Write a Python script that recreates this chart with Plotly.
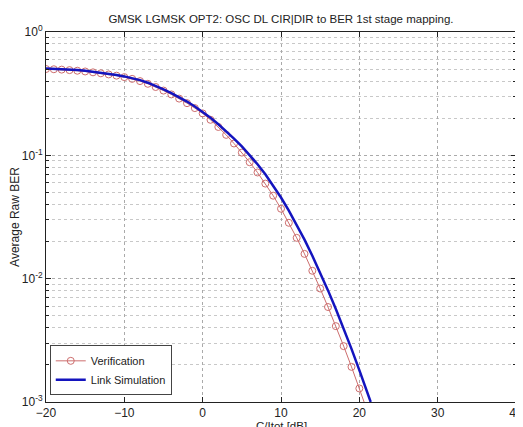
import plotly.graph_objects as go

title = "GMSK LGMSK OPT2: OSC DL CIR|DIR to BER 1st stage mapping."
x_label = "C/Itot [dB]"
y_label = "Average Raw BER"

# Link simulation (blue) : C/I in dB and log10(BER)
link_db = [-20, -19, -18, -17, -16, -15, -14, -13, -12, -11, -10, -9, -8, -7, -6, -5, -4, -3, -2, -1,
           0, 1, 2, 3, 4, 5, 6, 7, 8, 9, 10, 11, 12, 13, 14, 15, 16, 17, 18, 19, 20, 21, 21.45]
link_log = [-0.295, -0.297, -0.300, -0.304, -0.309, -0.315, -0.322, -0.330, -0.339, -0.349, -0.360,
            -0.373, -0.390, -0.411, -0.436, -0.465, -0.495, -0.528, -0.564, -0.604,
            -0.648, -0.696, -0.748, -0.804, -0.864, -0.928, -0.997, -1.072, -1.154, -1.244, -1.342,
            -1.448, -1.562, -1.684, -1.814, -1.951, -2.095, -2.246, -2.404, -2.569, -2.741, -2.920, -3.000]

# Verification (red circles)
ver_db = [-20, -19, -18, -17, -16, -15, -14, -13, -12, -11, -10, -9, -8, -7, -6, -5, -4, -3, -2, -1,
          0, 1, 2, 3, 4, 5, 6, 7, 8, 9, 10, 11, 12, 13, 14, 15, 16, 17, 18, 19, 20, 21]
ver_log = [-0.300, -0.302, -0.305, -0.309, -0.314, -0.320, -0.327, -0.335, -0.344, -0.354, -0.366,
           -0.380, -0.398, -0.420, -0.446, -0.475, -0.506, -0.540, -0.577, -0.617,
           -0.660, -0.712, -0.770, -0.834, -0.904, -0.978, -1.056, -1.139, -1.229, -1.327, -1.433,
           -1.547, -1.669, -1.799, -1.936, -2.080, -2.230, -2.385, -2.547, -2.715, -2.890, -3.070]

y_tickvals = [1, 0.1, 0.01, 0.001]
y_ticktext = ["10<sup>0</sup>", "10<sup>-1</sup>", "10<sup>-2</sup>", "10<sup>-3</sup>"]
x_tickvals = [-20, -10, 0, 10, 20, 30, 40]

link_ber = [10 ** v for v in link_log]
ver_ber = [10 ** v for v in ver_log]

FONT = "Liberation Sans, Arial"

fig = go.Figure()
fig.add_trace(go.Scatter(
    x=ver_db, y=ver_ber, mode="lines+markers", name="Verification",
    line=dict(color="rgb(205,110,110)", width=1),
    marker=dict(symbol="circle-open", size=7, color="rgb(205,110,110)", line=dict(width=1)),
))
fig.add_trace(go.Scatter(
    x=link_db, y=link_ber, mode="lines", name="Link Simulation",
    line=dict(color="rgb(20,20,190)", width=2.5),
))

axis_common = dict(
    showline=True, linecolor="#222", linewidth=1, mirror="ticks",
    ticks="inside", ticklen=5, tickcolor="#222", automargin=False,
    showgrid=True, gridcolor="rgb(170,170,170)", griddash="dot", gridwidth=1,
    zeroline=False, tickfont=dict(family=FONT, size=12, color="#222"),
)

fig.update_layout(
    width=515, height=419,
    margin=dict(l=38, r=7, t=24, b=25),
    paper_bgcolor="white", plot_bgcolor="white",
    title=dict(text=title, x=0.53, xanchor="center", y=0.974, yanchor="middle",
               font=dict(family=FONT, size=11.5, color="#222")),
    font=dict(family=FONT, color="#222"),
    xaxis=dict(range=[-20, 40], tickvals=x_tickvals, **axis_common),
    yaxis=dict(type="log", range=[-3, 0], tickvals=y_tickvals, ticktext=y_ticktext, **axis_common,
               minor=dict(showgrid=True, dtick="D1", gridcolor="rgb(200,200,200)", griddash="dot",
                          ticks="inside", ticklen=3, tickcolor="#222"),
               title=dict(text=y_label, standoff=0, font=dict(size=12))),
    legend=dict(x=0.008, y=0.018, xanchor="left", yanchor="bottom",
                bgcolor="white", bordercolor="#444", borderwidth=1,
                font=dict(family=FONT, size=11, color="#222"),
                tracegroupgap=0, itemwidth=30),
    showlegend=True,
    annotations=[dict(text=x_label, xref="paper", yref="paper", x=0.5, y=0,
                      xanchor="center", yanchor="top", yshift=-16, showarrow=False,
                      font=dict(family=FONT, size=11.5, color="#222"))],
)

fig.write_html("out.html")
